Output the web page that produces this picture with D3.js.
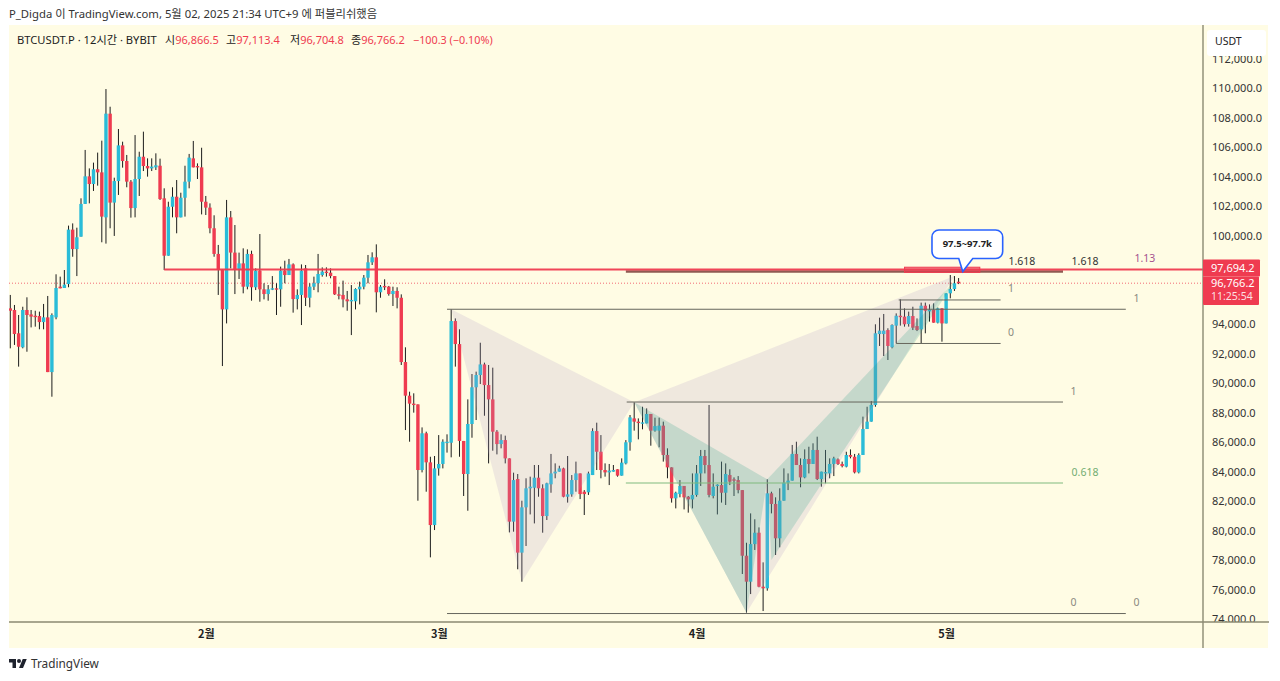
<!DOCTYPE html>
<html>
<head>
<meta charset="utf-8">
<script src="https://d3js.org/d3.v7.min.js"></script>
<style>
    body { margin: 0; background: #fff; }
    svg { display: block; }
    text { font-family: "Noto Sans", "Noto Sans CJK KR", sans-serif; }
</style>
</head>
<body>
<div id="stage"></div>
<script>
// BTCUSDT.P 12h candles
let opens = [
    95060,94950,93370,92420,94950,94650,94560,94540,94130,94450,
    90740,94450,96530,96440,96710,100400,99080,99920,102140,104010,
    103490,104490,104280,101230,108260,102230,103690,106110,105050,103650,
    101860,103830,105340,104710,104550,104620,104730,102520,98630,101950,
    102630,101230,102560,103650,105230,104710,104620,102290,101890,100490,
    98750,97660,94990,101230,98840,97710,98110,96530,98750,96490,
    97620,96350,96030,96350,96420,96350,97620,97320,98040,95690,
    95970,97770,95780,96530,96760,97320,97550,97480,97250,96010,
    95970,95670,95540,95540,96350,96530,97140,98180,98520,96150,
    96580,96530,96030,96240,95780,91420,89140,88600,88550,84100,
    86590,84620,80370,84210,84510,85950,85950,94200,92640,86070,
    83830,87220,89710,90540,91260,89860,88890,86700,85860,86130,
    84890,80600,83490,78500,81570,82860,82900,83580,82860,80980,
    83130,83870,83990,84210,82290,82450,83420,83870,82630,82590,
    83760,86740,85340,84100,83940,83990,84150,83720,84550,85980,
    87600,87380,87260,87260,87900,86770,86770,87110,85120,84280,
    82180,82470,83020,82290,82110,82410,83870,85050,84440,82340,
    83020,83080,82560,83760,83470,83420,82740,78290,76530,79080,
    79850,76190,76080,82520,81800,79470,82020,83240,83380,85190,
    84440,83600,84850,84510,85460,83490,83920,83870,84510,84820,
    84510,84330,85120,85000,83940,85120,86880,87380,88510,93320,
    93320,93590,92420,93890,94560,94500,94000,94540,93860,93640,
    95240,94900,94950,94090,95060,94040,96080,96370,96866.5]
let closes = [
    94900,93320,92460,94950,94610,94500,94500,94130,94450,90740,
    94610,96440,96420,96670,100400,99080,99880,102140,104010,103490,
    104490,104280,101280,108260,102230,103690,106110,105050,103650,101860,
    103830,105340,104710,104550,104670,104760,102470,98630,101950,102630,
    101230,102560,103650,105280,104620,104620,102290,101890,100490,98750,
    97660,94990,101230,98840,97660,98110,96530,98750,96490,97620,
    96350,96030,96350,96420,96350,97620,97320,98040,95690,95970,
    97620,95780,96530,96760,97390,97550,97480,97250,96010,95970,
    95670,95540,95630,96370,96530,97140,98180,98520,96150,96530,
    96530,96030,96240,95780,91420,89140,88600,88510,84100,86590,
    84620,80370,84210,84510,86020,86020,94200,92640,86070,83830,
    87220,89710,90540,91260,89860,88890,86700,85860,86130,84890,
    80600,83420,78500,81570,82860,82970,83580,82860,80980,83200,
    83870,83990,84210,82290,82450,83420,83870,82470,82470,83870,
    86740,85340,84100,83940,84060,84100,83720,84600,85980,87670,
    87380,87310,87330,87900,86770,87080,87110,85120,84280,82180,
    82560,83020,82250,82110,82410,83870,85050,84440,82410,82970,
    83110,82560,83830,83310,83420,82740,78290,76530,79080,79850,
    76190,76080,82520,81800,79470,82020,83240,83380,85190,84440,
    83600,84850,84510,85460,83490,83990,83960,84510,84890,84510,
    84370,85120,85000,83940,85120,86880,87380,88510,93370,93550,
    93550,92510,93930,94560,94500,93980,94540,93750,93590,95240,
    94900,94950,94090,95060,94040,96080,96370,96760,96766.2]
let highs = [
    95970,95290,94610,95170,95810,94950,94900,94840,95360,95900,
    94720,97370,97210,97660,100670,100820,100530,102520,105800,104550,
    104940,105620,106430,109930,108730,103920,107220,106360,105460,103760,
    106810,105680,107040,105230,105230,105570,105210,103200,102290,103270,
    103760,102900,104730,105530,106410,104890,105950,102680,102180,101370,
    99360,97700,102410,101660,100710,98840,99130,99060,98970,97770,
    100100,96760,96640,97250,96760,97890,98290,98410,98110,96350,
    98040,98000,96760,97210,98750,97840,97840,97770,97250,96530,
    96940,96240,96640,96420,96870,97320,98680,98860,99400,96640,
    97030,96580,96530,96490,96010,92420,89410,89300,88550,86990,
    86700,85000,85050,86470,86180,86520,94990,94380,93640,86070,
    88890,90610,90770,92730,91380,91220,91040,86810,86520,86430,
    84890,83920,83830,82020,83540,83650,84440,84440,83130,83240,
    85190,84550,84390,84260,85050,83760,84670,83870,82740,83990,
    86930,87310,86470,84550,84510,84440,84150,84890,86130,87830,
    88690,87600,88390,88280,87900,87650,87650,87380,85570,84280,
    82630,83420,82970,82340,83870,84440,85460,85460,88510,83870,
    83130,84670,84550,84150,83600,83690,82740,79170,81160,80760,
    80210,77840,83470,82630,82250,82860,84210,83870,85800,86020,
    84890,85500,85680,85910,86360,83990,85460,84890,85000,84890,
    84670,85340,85500,85190,85230,87720,88390,88780,93980,94430,
    94680,93710,93980,94720,95670,95060,94840,95170,94380,95450,
    95450,95330,95400,95110,95060,96080,97320,97250,97113.4]
let lows = [
    92350,92580,91110,92350,92120,93770,93820,93640,93640,90740,
    89070,94320,96420,96440,96490,98560,97250,99920,102140,102180,
    103020,103380,99540,99450,100490,99970,102750,104600,103270,101210,
    101230,102680,104370,103990,104370,104440,102410,97660,98630,101230,
    100150,101230,101280,103200,104620,103830,101430,101390,100150,98560,
    95970,91150,94040,97770,96030,97050,96080,96350,95580,96300,
    95510,95670,95580,96300,94610,95170,96760,97320,94770,94990,
    93930,95220,95130,96300,96150,97210,97210,97100,95970,95670,
    95130,94900,93250,94990,95330,96350,96760,98000,94790,95780,
    96300,95920,95220,95060,91220,86810,86020,87990,82020,83940,
    82630,78180,80030,83720,84210,85280,84960,91110,85000,82340,
    81340,86290,87490,89930,87780,84550,85410,85160,85570,84550,
    79870,79920,77370,76530,78950,81090,80480,82290,79850,80710,
    82560,83540,83990,82250,81890,82290,82630,82130,81050,82410,
    83760,84100,83540,83650,83080,83990,83650,83720,84480,85410,
    86770,86180,86860,87260,85750,86700,85640,84670,83540,81890,
    81500,82250,81430,81210,81500,82290,83020,83870,82250,82180,
    81090,81890,81730,83080,82340,82520,77050,74430,75690,78680,
    76150,74540,75920,81160,78340,78860,82020,82740,83380,84440,
    82930,83540,83870,84510,83420,82970,83200,83540,83690,84440,
    84280,84280,84890,83870,83870,85120,86880,87380,88390,92510,
    91830,91560,92350,92690,93890,93820,93820,93590,93520,92690,
    93370,94160,94090,94040,92800,94040,95740,96240,96704.8]

// 96,000 and 98,000 sit behind the price tags
let priceTicks = [74000,76000,78000,80000,82000,84000,86000,88000,90000,92000,94000,100000,102000,104000,106000,108000,110000,112000]
let monthIndex = [47, 103, 165, 225]
let monthNames = ['2월', '3월', '4월', '5월']

let alertPrice = 97694.2
let lastPrice = 96766.2

// drawings: [candle index, price]
let beigeTriangles = [
    [[106, 94993], [123, 76529], [150, 88687]],
    [[150, 88687], [177, 74427], [227, 97250]]
]
let greenTriangles = [
    [[150, 88687], [177, 74427], [182, 83467]],
    [[182, 83467], [183, 78000], [227.5, 97050]]
]
// fib level lines: [from index, to index, price]
let greyLevels = [
    [105, 268.2, 95000], [105, 268.2, 74370],
    [148.2, 253.1, 88710],
    [213.6, 238.1, 95630], [213, 238.1, 92680]
]
let greenLevels = [[148, 253.1, 83220]]
let brownLevels = [[148, 253.1, 97560]]
// level labels: [text, index, price]
let darkLabels = [['1.618', 243.2, 97560], ['1.618', 258.4, 97560]]
let greyLabels = [['1', 240.6, 95630], ['0', 240.6, 92680], ['1', 270.8, 95000], ['1', 255.6, 88710], ['0', 255.6, 74370], ['0', 270.8, 74370]]
let greenLabelRows = [['0.618', 258.4, 83220]]
let purpleLabels = [['1.13', 272.8, alertPrice]]

const W = 1280, H = 681
const pane = { left: 9, right: 1268, top: 25, bottom: 648, axisX: 1203, axisY: 622 }
const TEAL = '#2abcd8', RED = '#ef3b50', PANE_BG = '#fffce4', AXIS = '#8b8a72'

let svg = d3.select('#stage').append('svg').attr('width', W).attr('height', H)

let x = d3.scaleLinear().domain([0, 228]).range([10.3, 958.6])
let y = d3.scaleLinear().domain([74000, 110000]).range([619, 88])

svg.append('rect').attr('x', pane.left).attr('y', pane.top)
    .attr('width', pane.right - pane.left).attr('height', pane.bottom - pane.top).attr('fill', PANE_BG)

svg.append('clipPath').attr('id', 'plotclip').append('rect')
    .attr('x', pane.left).attr('y', pane.top).attr('width', pane.axisX - pane.left).attr('height', pane.axisY - pane.top)
let plot = svg.append('g').attr('clip-path', 'url(#plotclip)')

// current price dotted line sits under the candles
plot.append('line').attr('x1', pane.left).attr('x2', pane.axisX).attr('y1', y(lastPrice)).attr('y2', y(lastPrice))
    .attr('stroke', RED).attr('stroke-opacity', 0.75).attr('stroke-dasharray', '1 2').attr('stroke-width', 1)

// candles
let candle = plot.append('g').selectAll('g').data(opens).join('g')
candle.append('line')
    .attr('x1', (d, i) => x(i)).attr('x2', (d, i) => x(i))
    .attr('y1', (d, i) => y(highs[i])).attr('y2', (d, i) => y(lows[i]))
    .attr('stroke', '#1c1c1c').attr('stroke-width', 1)
candle.append('rect')
    .attr('x', (d, i) => x(i) - 1.7).attr('width', 3.4)
    .attr('y', (d, i) => y(Math.max(d, closes[i])))
    .attr('height', (d, i) => Math.max(1.4, Math.abs(y(d) - y(closes[i]))))
    .attr('fill', (d, i) => closes[i] >= d ? TEAL : RED)

// harmonic pattern fills go over the candles
let triangle = d3.line().x(d => x(d[0])).y(d => y(d[1]))
plot.append('g').selectAll('path').data(beigeTriangles).join('path')
    .attr('d', d => triangle(d) + 'Z').attr('fill', 'rgba(175,153,200,0.2)')
plot.append('g').selectAll('path').data(greenTriangles).join('path')
    .attr('d', d => triangle(d) + 'Z').attr('fill', 'rgba(30,155,130,0.2)')

function draw_levels(rows, colour, width) {
    plot.append('g').selectAll('line').data(rows).join('line')
        .attr('x1', d => x(d[0])).attr('x2', d => x(d[1]))
        .attr('y1', d => y(d[2])).attr('y2', d => y(d[2]))
        .attr('stroke', colour).attr('stroke-width', width)
} // draw_levels

draw_levels(greyLevels, '#66665c', 1)
draw_levels(greenLevels, '#80b97f', 1.2)
draw_levels(brownLevels, '#8f5a52', 2.6)

// red level from the old low, runs into the price scale
plot.append('line').attr('x1', x(37)).attr('x2', pane.axisX).attr('y1', y(alertPrice)).attr('y2', y(alertPrice))
    .attr('stroke', RED).attr('stroke-width', 1.8).attr('stroke-opacity', 0.95)

// highlighted zone under the callout
plot.append('rect').attr('x', x(215)).attr('width', x(233.1) - x(215))
    .attr('y', y(97850)).attr('height', y(97500) - y(97850))
    .attr('fill', RED).attr('fill-opacity', 0.6).attr('stroke', RED).attr('stroke-width', 1)

function draw_labels(rows, colour, lift) {
    svg.append('g').selectAll('text').data(rows).join('text')
        .attr('x', d => x(d[1])).attr('y', d => y(d[2]) - lift)
        .attr('text-anchor', 'middle').attr('font-size', 10.5).attr('fill', colour)
        .text(d => d[0])
} // draw_labels

draw_labels(darkLabels, '#333', 6)
draw_labels(greyLabels, '#8a8a80', 7.5)
draw_labels(greenLabelRows, '#72ad72', 7)
draw_labels(purpleLabels, '#a5528f', 8)

// callout
let tipX = x(229), tipY = y(97560)
let boxL = x(221.6), boxR = x(238.6), boxT = 230, boxB = 258.5, r = 7
let callout = d3.path()
callout.moveTo(boxL + r, boxT)
callout.lineTo(boxR - r, boxT)
callout.arcTo(boxR, boxT, boxR, boxT + r, r)
callout.lineTo(boxR, boxB - r)
callout.arcTo(boxR, boxB, boxR - r, boxB, r)
callout.lineTo(tipX + 10, boxB)
callout.lineTo(tipX, tipY)
callout.lineTo(tipX - 4, boxB)
callout.lineTo(boxL + r, boxB)
callout.arcTo(boxL, boxB, boxL, boxB - r, r)
callout.lineTo(boxL, boxT + r)
callout.arcTo(boxL, boxT, boxL + r, boxT, r)
callout.closePath()
svg.append('path').attr('d', callout.toString()).attr('fill', '#fff').attr('stroke', '#2962ff').attr('stroke-width', 1.6)
svg.append('text').attr('x', (boxL + boxR) / 2).attr('y', 247).attr('text-anchor', 'middle')
    .attr('font-size', 9.5).attr('font-weight', 'bold').attr('fill', '#222').text('97.5~97.7k')

// price scale
let yAxis = d3.axisRight(y).tickValues(priceTicks).tickSize(0).tickPadding(0).tickFormat(d3.format(',.1f'))
let yAxisG = svg.append('g').attr('transform', 'translate(' + 1212 + ',0)').call(yAxis)
yAxisG.select('.domain').remove()
yAxisG.selectAll('text').attr('font-size', 11).attr('fill', '#333').style('font-family', '"Noto Sans", sans-serif')

// time scale strip covers the clipped bottom tick
svg.append('rect').attr('x', pane.left).attr('y', pane.axisY).attr('width', pane.right - pane.left)
    .attr('height', pane.bottom - pane.axisY).attr('fill', PANE_BG)
let xAxis = d3.axisBottom(x).tickValues(monthIndex).tickSize(0).tickPadding(0).tickFormat((d, i) => monthNames[i])
let xAxisG = svg.append('g').attr('transform', 'translate(0,' + 630 + ')').call(xAxis)
xAxisG.select('.domain').remove()
xAxisG.selectAll('text').attr('font-size', 11).attr('font-weight', 'bold').attr('fill', '#222')
    .style('font-family', '"Noto Sans CJK KR", sans-serif')

svg.append('line').attr('x1', pane.left).attr('x2', pane.right + 1).attr('y1', pane.axisY).attr('y2', pane.axisY)
    .attr('stroke', AXIS).attr('stroke-width', 1.4)
svg.append('line').attr('x1', pane.axisX).attr('x2', pane.axisX).attr('y1', pane.top).attr('y2', pane.bottom)
    .attr('stroke', AXIS).attr('stroke-width', 1.4)

// USDT button, it cuts into the 112,000 label
svg.append('rect').attr('x', 1207).attr('y', 30).attr('width', 59).attr('height', 26).attr('rx', 3).attr('fill', '#fff')
svg.append('text').attr('x', 1215).attr('y', 45).attr('font-size', 10.5).attr('fill', '#222').text('USDT')

// price tags
svg.append('rect').attr('x', pane.axisX).attr('y', 259.5).attr('width', 57).attr('height', 17).attr('rx', 1).attr('fill', RED)
svg.append('rect').attr('x', pane.axisX).attr('y', 276.5).attr('width', 56).attr('height', 28.5).attr('rx', 1).attr('fill', RED)
let tagFormat = d3.format(',.1f')
svg.append('text').attr('x', 1211).attr('y', 271.5).attr('font-size', 11).attr('fill', '#fff').text(tagFormat(alertPrice))
svg.append('text').attr('x', 1211).attr('y', 287).attr('font-size', 11).attr('fill', '#fff').text(tagFormat(lastPrice))
svg.append('text').attr('x', 1211).attr('y', 300).attr('font-size', 10.5).attr('fill', '#fff').attr('fill-opacity', 0.85).text('11:25:54')

// header text
svg.append('text').attr('x', 9).attr('y', 18).attr('font-size', 11.3).attr('fill', '#333')
    .text('P_Digda 이 TradingView.com, 5월 02, 2025 21:34 UTC+9 에 퍼블리쉬했음')
svg.append('text').attr('x', 17).attr('y', 44).attr('font-size', 11.2).attr('fill', '#222').text('BTCUSDT.P · 12시간 · BYBIT')

let last = opens.length - 1
let legendNames = ['시', '고', '저', '종']
let legendValues = [opens[last], highs[last], lows[last], closes[last]]
let legendX = [165, 226, 290, 351]
legendNames.forEach((name, i) => {
    let t = svg.append('text').attr('x', legendX[i]).attr('y', 44).attr('font-size', 11)
    t.append('tspan').attr('fill', '#222').text(name)
    t.append('tspan').attr('fill', RED).text(tagFormat(legendValues[i]))
})
svg.append('text').attr('x', 413).attr('y', 44).attr('font-size', 10.8).attr('fill', RED).text('−100.3 (−0.10%)')

// logo
let logo = svg.append('g').attr('transform', 'translate(9,657) scale(0.5)').attr('fill', '#1e222d')
logo.append('path').attr('d', 'M14 22H7V11H0V4h14v18zM28 22h-8l7.5-18h8L28 22z')
logo.append('circle').attr('cx', 20).attr('cy', 8).attr('r', 4)
svg.append('text').attr('x', 31).attr('y', 668).attr('font-size', 11.8).attr('fill', '#333').text('TradingView')
</script>
</body>
</html>
